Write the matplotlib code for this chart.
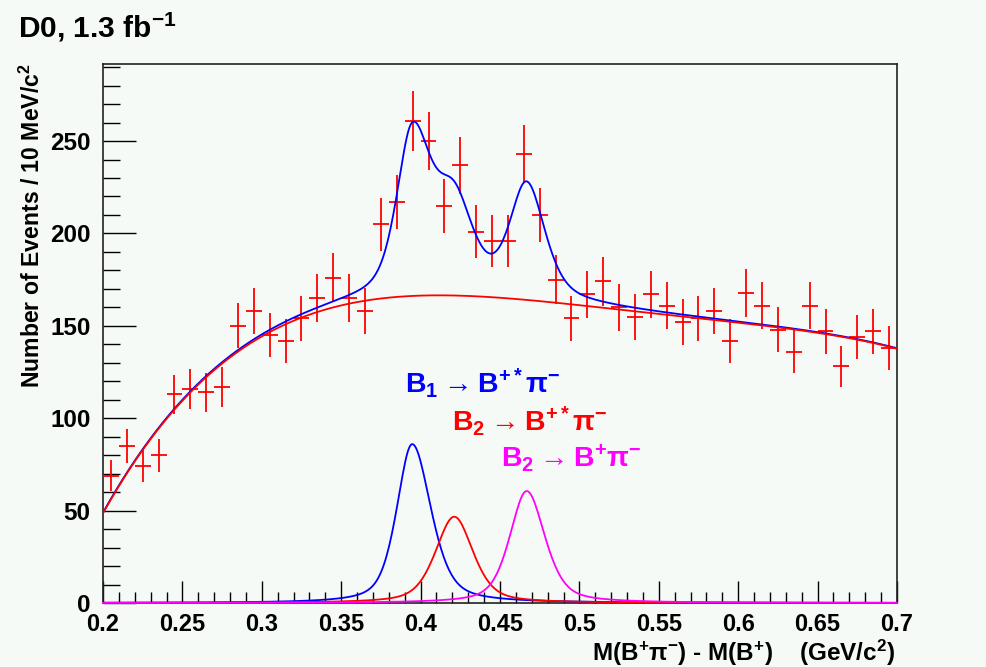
import numpy as np
import matplotlib
matplotlib.use('Agg')
import matplotlib.pyplot as plt

plt.rcParams['font.family'] = ['Liberation Sans', 'DejaVu Sans']
plt.rcParams['font.weight'] = 'bold'
plt.rcParams['mathtext.fontset'] = 'custom'
plt.rcParams['mathtext.rm'] = 'Liberation Sans:bold'
plt.rcParams['mathtext.it'] = 'Liberation Sans:bold'
plt.rcParams['mathtext.bf'] = 'Liberation Sans:bold'
plt.rcParams['mathtext.default'] = 'rm'

# histogram: bin centres (10 MeV bins) and counts
mass = [0.205, 0.215, 0.225, 0.235, 0.245, 0.255, 0.265, 0.275, 0.285, 0.295,
        0.305, 0.315, 0.325, 0.335, 0.345, 0.355, 0.365, 0.375, 0.385, 0.395,
        0.405, 0.415, 0.425, 0.435, 0.445, 0.455, 0.465, 0.475, 0.485, 0.495,
        0.505, 0.515, 0.525, 0.535, 0.545, 0.555, 0.565, 0.575, 0.585, 0.595,
        0.605, 0.615, 0.625, 0.635, 0.645, 0.655, 0.665, 0.675, 0.685, 0.695]
events = [69, 85, 74, 80, 113, 116, 114, 117, 150, 158,
          145, 142, 154, 165, 176, 165, 158, 205, 217, 261,
          250, 215, 237, 201, 196, 196, 243, 210, 175, 154,
          167, 174, 160, 155, 167, 161, 152, 154, 158, 142,
          168, 161, 148, 136, 161, 147, 128, 144, 147, 138]

# background shape
bkg_x = [0.2, 0.2244, 0.2443, 0.2548, 0.2758, 0.3052, 0.322, 0.3513, 0.3807,
         0.44, 0.475, 0.538, 0.590, 0.643, 0.699]
bkg_y = [49, 81, 103.5, 115.3, 130.6, 146, 153, 162, 165,
         166, 163, 158.2, 152, 147.4, 137.8]

# signal peaks: position, height, left / right half widths
peak_names = ['B$_1$\u2009→\u2009B$^{+*}$π$^{-}$',
              'B$_2$\u2009→\u2009B$^{+*}$π$^{-}$',
              'B$_2$\u2009→\u2009B$^{+}$π$^{-}$']
peak_mean = [0.3947, 0.4212, 0.4668]
peak_height = [86, 46.7, 60.6]
peak_hwl = [0.0115, 0.014, 0.0126]
peak_hwr = [0.014, 0.014, 0.0136]
peak_color = ['#0000ff', '#ff0000', '#ff00ff']


def peak(x, m, h, hwl, hwr, eta=0.5):
    u = (x - m) / np.where(x < m, hwl, hwr)
    return h * (eta / (1 + u**2) + (1 - eta) * np.exp(-np.log(2) * u**2))


bg = '#f6faf7'
fig = plt.figure(figsize=(9.87, 6.67), dpi=100, facecolor=bg)
ax = fig.add_axes([103/987, 1-603/667, 794/987, 539/667])
ax.set_facecolor(bg)

xx = np.linspace(0.2, 0.7, 600)
coef = np.polyfit(bkg_x, bkg_y, 6)
bkg = np.polyval(coef, xx)
sig = [peak(xx, *p) for p in zip(peak_mean, peak_height, peak_hwl, peak_hwr)]
total = bkg + sum(sig)

ax.errorbar(mass, events, yerr=np.sqrt(events), xerr=0.005, fmt='none',
            ecolor='#ff0000', elinewidth=1.3, capsize=0, zorder=3)
ax.plot(xx, total, color='#0000ff', lw=1.3, zorder=4)
ax.plot(xx, bkg, color='#ff0000', lw=1.3, zorder=5)
for s, c in zip(sig, peak_color):
    ax.plot(xx, s, color=c, lw=1.3, zorder=4, clip_on=False)

ax.text(0.390, 113.6, peak_names[0], color=peak_color[0], fontsize=20.5, va='baseline')
ax.text(0.4198, 93, peak_names[1], color=peak_color[1], fontsize=20.5, va='baseline')
ax.text(0.4506, 74, peak_names[2], color=peak_color[2], fontsize=20.5, va='baseline')

ax.set_xlim(0.2, 0.7)
ax.set_ylim(0, 291.7)
ax.set_xticks(np.arange(0.2, 0.701, 0.05))
ax.set_xticklabels(['0.2', '0.25', '0.3', '0.35', '0.4', '0.45', '0.5', '0.55', '0.6', '0.65', '0.7'])
ax.set_xticks(np.arange(0.2, 0.701, 0.01), minor=True)
ax.set_yticks([0, 50, 100, 150, 200, 250])
ax.set_yticks(np.arange(0, 291, 10), minor=True)
ax.tick_params(axis='both', which='both', direction='in', colors='black', width=1)
ax.tick_params(axis='x', which='major', length=16, pad=7, labelsize=17)
ax.tick_params(axis='x', which='minor', length=8)
ax.tick_params(axis='y', which='major', length=24, pad=9, labelsize=17.5)
ax.tick_params(axis='y', which='minor', length=12)
for sp in ax.spines.values():
    sp.set_linewidth(1.2)
    sp.set_color('#222222')

fig.text(18/987, 1-37/667, 'D0, 1.3 fb$^{-1}$', fontsize=21.5, va='baseline')
fig.text(32/987, 1-63/667, 'Number of Events / 10 MeV/c$^{2}$', fontsize=16.6,
         rotation=90, ha='center', va='top')
fig.text(895/987, 1-661/667, 'M(B$^{+}$π$^{-}$) - M(B$^{+}$)    (GeV/c$^{2}$)',
         fontsize=17.5, ha='right', va='baseline')

fig.savefig('out.png', dpi=100, facecolor=bg)
